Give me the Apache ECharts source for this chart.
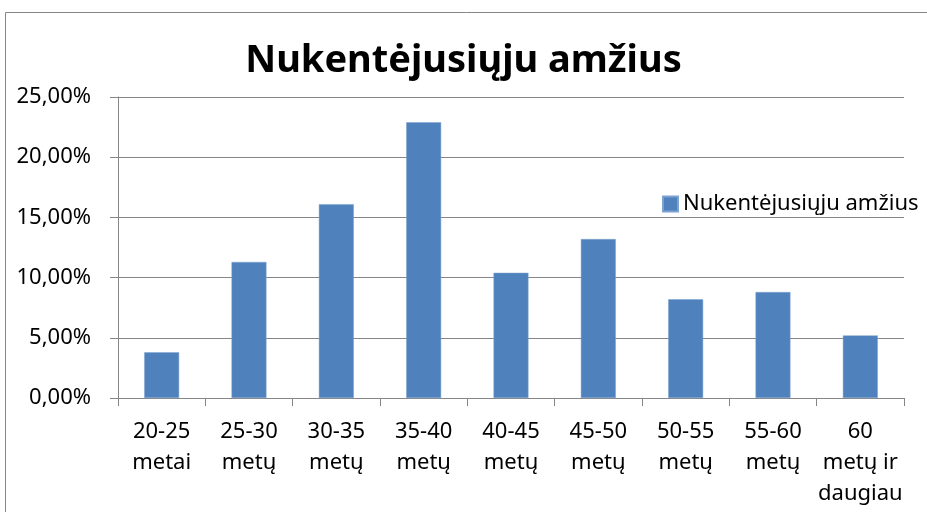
<!DOCTYPE html>
<html>
<head>
<meta charset="utf-8">
<script src="https://cdn.jsdelivr.net/npm/echarts@6/dist/echarts.min.js"></script>
<style>
  html, body { margin: 0; padding: 0; background: #fff; }
  #chart { width: 927px; height: 512px; }
</style>
</head>
<body>
<div id="chart"></div>
<script>
const categories = ["20-25\nmetai", "25-30\nmetų", "30-35\nmetų", "35-40\nmetų", "40-45\nmetų", "45-50\nmetų", "50-55\nmetų", "55-60\nmetų", "60\nmetų ir\ndaugiau"];
const values = [3.8, 11.3, 16.1, 22.9, 10.4, 13.2, 8.2, 8.8, 5.2];
const seriesName = "Nukentėjusiųju amžius";
const titleText = "Nukentėjusiųju amžius";

const font = "Noto Sans";
const myChart = echarts.init(document.getElementById("chart"));
const option = {
  animation: false,
  graphic: [
    {
      type: "rect",
      shape: { x: 5.5, y: 12.5, width: 940, height: 520 },
      style: { fill: "none", stroke: "#868686", lineWidth: 1 }
    }
  ],
  title: {
    text: titleText,
    left: "center",
    top: 37,
    textStyle: { fontFamily: font, fontSize: 38, fontWeight: "bold", color: "#000" }
  },
  legend: {
    data: [seriesName],
    left: 657,
    top: 188,
    icon: "rect",
    itemWidth: 15,
    itemHeight: 15,
    itemGap: 7,
    textStyle: { fontFamily: font, fontSize: 22, color: "#000" }
  },
  grid: { left: 118, right: 23, top: 97, bottom: 114 },
  xAxis: {
    type: "category",
    data: categories,
    axisLine: { lineStyle: { color: "#868686", width: 1 } },
    axisTick: { show: true, length: 8, lineStyle: { color: "#868686" } },
    axisLabel: {
      fontFamily: font,
      fontSize: 22,
      color: "#000",
      lineHeight: 31,
      margin: 18,
      interval: 0
    }
  },
  yAxis: {
    type: "value",
    min: 0,
    max: 25,
    interval: 5,
    axisLine: { show: true, lineStyle: { color: "#868686", width: 1 } },
    axisTick: { show: true, length: 8, lineStyle: { color: "#868686" } },
    splitLine: { lineStyle: { color: "#868686", width: 1 } },
    axisLabel: {
      fontFamily: font,
      fontSize: 22,
      color: "#000",
      margin: 27,
      formatter: function (v) { return v.toFixed(2).replace(".", ",") + "%"; }
    }
  },
  series: [
    {
      name: seriesName,
      type: "bar",
      data: values,
      barWidth: "40%",
      itemStyle: { color: "#4f81bd", borderColor: "#7ea2cf", borderWidth: 0.5 }
    }
  ]
};
myChart.setOption(option);
</script>
</body>
</html>
